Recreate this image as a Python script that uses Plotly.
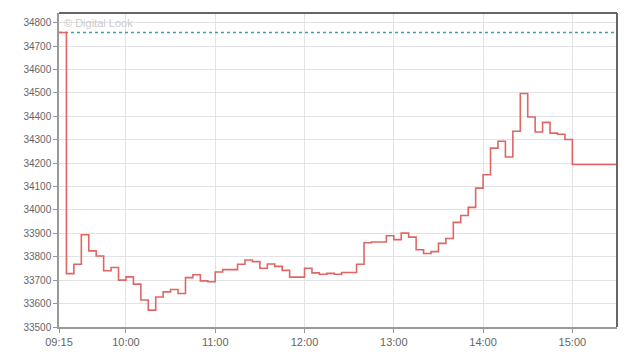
import plotly.graph_objects as go

DAY = "2024-01-02 "
times = [
    "09:15", "09:20", "09:25", "09:30", "09:35", "09:40", "09:45", "09:50", "09:55",
    "10:00", "10:05", "10:10", "10:15", "10:20", "10:25", "10:30", "10:35", "10:40", "10:45", "10:50", "10:55",
    "11:00", "11:05", "11:10", "11:15", "11:20", "11:25", "11:30", "11:35", "11:40", "11:45", "11:50", "11:55",
    "12:00", "12:05", "12:10", "12:15", "12:20", "12:25", "12:30", "12:35", "12:40", "12:45", "12:50", "12:55",
    "13:00", "13:05", "13:10", "13:15", "13:20", "13:25", "13:30", "13:35", "13:40", "13:45", "13:50", "13:55",
    "14:00", "14:05", "14:10", "14:15", "14:20", "14:25", "14:30", "14:35", "14:40", "14:45", "14:50", "14:55",
    "15:00", "15:30",
]
prices = [
    34758, 33728, 33768, 33894, 33825, 33803, 33740, 33754, 33700,
    33714, 33683, 33615, 33572, 33628, 33650, 33660, 33643, 33711, 33723, 33697, 33693,
    33735, 33745, 33745, 33768, 33786, 33779, 33751, 33769, 33759, 33742, 33713, 33713,
    33751, 33731, 33725, 33729, 33725, 33733, 33733, 33768, 33860, 33863, 33863, 33890,
    33873, 33901, 33884, 33830, 33814, 33822, 33857, 33878, 33947, 33976, 34011, 34093,
    34150, 34264, 34293, 34226, 34336, 34497, 34397, 34333, 34374, 34328, 34323, 34301,
    34194, 34194,
]
prev_close = 34758

x_tick_times = ["09:15", "10:00", "11:00", "12:00", "13:00", "14:00", "15:00"]
y_ticks = [33500, 33600, 33700, 33800, 33900, 34000, 34100, 34200, 34300,
           34400, 34500, 34600, 34700, 34800]
x_start, x_end = "09:15", "15:30"
y_min, y_max = 33500, 34841

xs = [DAY + t for t in times]

fig = go.Figure()
fig.add_trace(go.Scatter(
    x=[DAY + x_start, DAY + x_end], y=[prev_close, prev_close],
    mode="lines", line=dict(color="#3f9fa8", width=1.4, dash="dot"),
    hoverinfo="skip", showlegend=False,
))
fig.add_trace(go.Scatter(
    x=xs, y=prices, mode="lines", line_shape="hv",
    line=dict(color="#e06666", width=1.6), showlegend=False,
))

fig.update_layout(
    width=640, height=360,
    margin=dict(l=59, r=23, t=13, b=33),
    paper_bgcolor="white", plot_bgcolor="white",
    font=dict(family="Liberation Sans, Arial, sans-serif", color="#666666", size=10),
    showlegend=False,
)
fig.update_xaxes(
    type="date", range=[DAY + x_start, DAY + x_end],
    tickvals=[DAY + t for t in x_tick_times], ticktext=x_tick_times,
    showgrid=True, gridcolor="#e3e3e3", gridwidth=1,
    showline=True, linecolor="#999999", linewidth=1.5,
    ticks="outside", ticklen=4, tickcolor="#999999",
    tickfont=dict(size=11, color="#666666"),
    zeroline=False,
)
fig.update_yaxes(
    range=[y_min, y_max], tickvals=y_ticks,
    ticktext=[str(v) for v in y_ticks],
    showgrid=True, gridcolor="#e3e3e3", gridwidth=1,
    showline=True, linecolor="#999999", linewidth=1.5,
    ticks="outside", ticklen=4, tickcolor="#999999",
    tickfont=dict(size=10, color="#666666",
                  family="Liberation Sans Narrow, Arial Narrow, Liberation Sans, sans-serif"),
    zeroline=False,
)
# top and right frame borders
fig.add_shape(type="line", xref="paper", yref="paper", x0=0, x1=1, y0=1, y1=1,
              line=dict(color="#666666", width=2))
fig.add_shape(type="line", xref="paper", yref="paper", x0=1, x1=1, y0=0, y1=1,
              line=dict(color="#666666", width=2))
fig.add_annotation(text="© Digital Look", xref="paper", yref="paper",
                   x=0.006, y=0.995, xanchor="left", yanchor="top", showarrow=False,
                   font=dict(size=11, color="#cccccc", family="Liberation Sans, Arial, sans-serif"))

fig.write_html("out.html")
